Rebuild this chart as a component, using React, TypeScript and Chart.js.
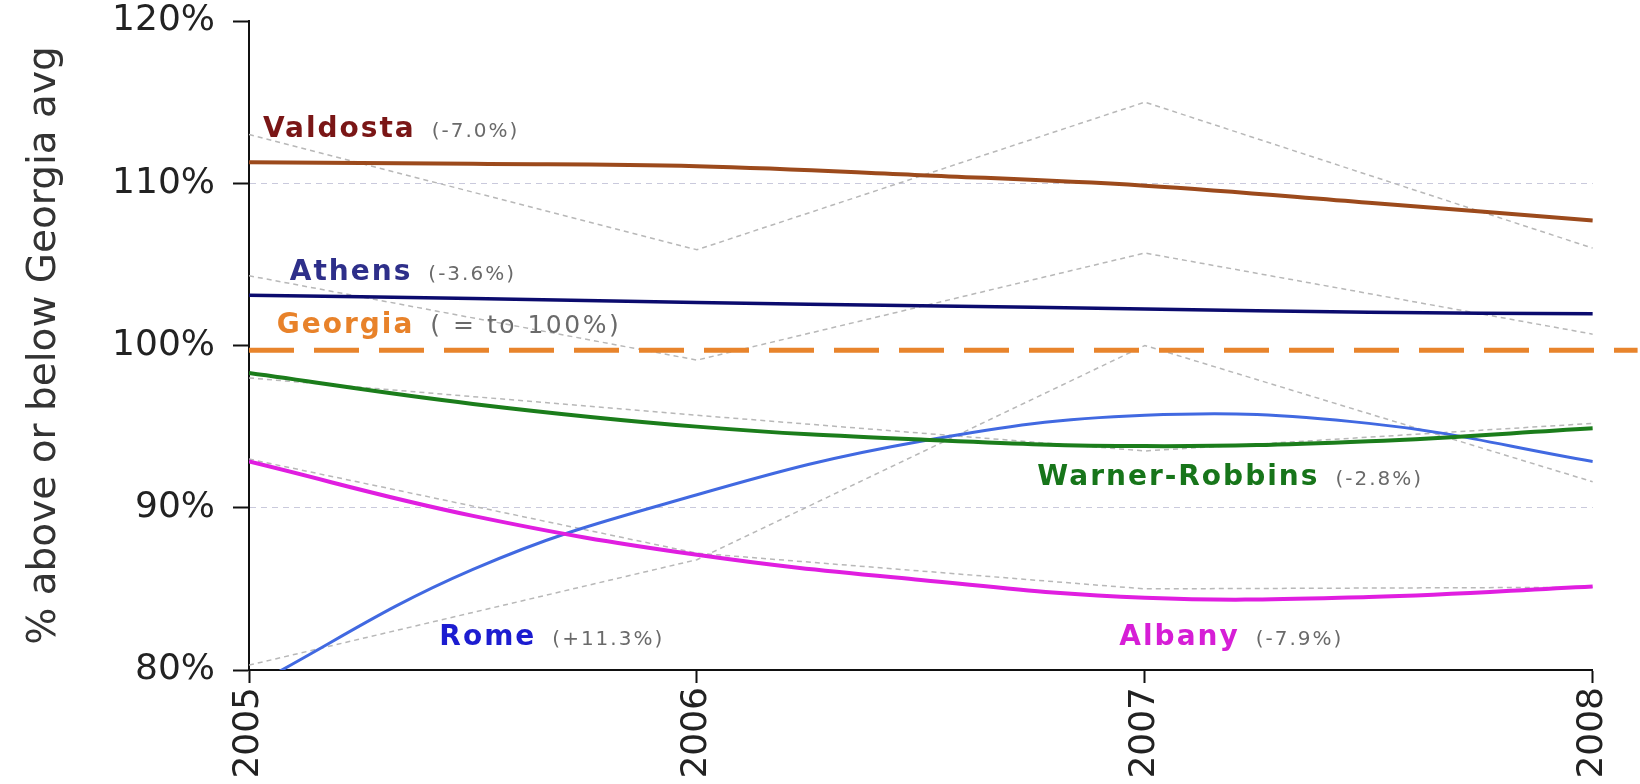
import React, { useEffect, useRef } from 'react';
import { Chart, registerables } from 'chart.js';

Chart.register(...registerables);

// ---- data ----
const years = [2005, 2006, 2007, 2008];
const trendYears = [2005, 2005.5, 2006, 2006.5, 2007, 2007.5, 2008];

// smooth trend lines (% of Georgia average)
const valdostaTrend = [111.3, 111.2, 111.05, 110.5, 109.85, 108.8, 107.7];
const athensTrend = [103.1, 102.9, 102.65, 102.45, 102.25, 102.05, 101.95];
const warnerTrend = [98.3, 96.4, 95.0, 94.2, 93.8, 94.1, 94.9];
const romeTrend = [78.9, 86.2, 90.8, 94.1, 95.7, 95.2, 92.85];
const albanyTrend = [92.85, 89.5, 87.1, 85.55, 84.45, 84.5, 85.15];

// actual yearly values (thin grey dashed)
const valdostaActual = [113.0, 105.9, 115.0, 106.0];
const athensActual = [104.3, 99.1, 105.7, 100.7];
const warnerActual = [98.0, 95.7, 93.5, 95.2];
const romeActual = [80.3, 86.8, 100.0, 91.6];
const albanyActual = [93.0, 87.2, 85.0, 85.1];

// Georgia reference line
const georgiaYears = [2005, 2008.1];
const georgiaLevel = [99.7, 99.7];

const yTicks = [80, 90, 100, 110, 120];
const gridLevels = [90, 110];

const labelNames = ['Valdosta', 'Athens', 'Georgia', 'Rome', 'Warner-Robbins', 'Albany'];
const labelChanges = ['(-7.0%)', '(-3.6%)', '( = to 100%)', '(+11.3%)', '(-2.8%)', '(-7.9%)'];

const THIN = '"DejaVu Sans ExtraLight", "DejaVu Sans", sans-serif';

const pts = (xs: number[], ys: number[]) => xs.map((x, i) => ({ x, y: ys[i] }));

const labelLayout = {
  years: [2005.031, 2005.091, 2005.062, 2005.425, 2006.76, 2006.943],
  values: [112.85, 104.04, 100.77, 81.54, 91.4, 81.54],
  colors: ['#7a1616', '#2e2f8a', '#e8822a', '#1c1cd0', '#17751a', '#d61ed6'],
  changeSizes: [20, 20, 25, 20, 20, 20],
  nameSize: 28,
  gap: 16,
};

const labelPlugin = {
  id: 'cityLabels',
  afterDatasetsDraw(chart: any) {
    const { ctx, scales } = chart;
    const xs = scales.x;
    const ys = scales.y;
    ctx.save();
    ctx.textAlign = 'left';
    ctx.textBaseline = 'alphabetic';
    labelNames.forEach((name, i) => {
      const px = xs.getPixelForValue(labelLayout.years[i]);
      const py = ys.getPixelForValue(labelLayout.values[i]);
      ctx.font = `bold ${labelLayout.nameSize}px "DejaVu Sans", sans-serif`;
      (ctx as any).letterSpacing = '2px';
      ctx.fillStyle = labelLayout.colors[i];
      ctx.fillText(name, px, py);
      const w = ctx.measureText(name).width;
      const sz = labelLayout.changeSizes[i];
      ctx.font = `${sz}px ${THIN}`;
      (ctx as any).letterSpacing = sz > 22 ? '2.5px' : '2px';
      ctx.fillStyle = '#6a6a6a';
      ctx.fillText(labelChanges[i], px + w + labelLayout.gap, py);
    });
    (ctx as any).letterSpacing = '0px';
    ctx.restore();
  },
};

const trend = (data: number[], color: string, width: number) => ({
  data: pts(trendYears, data),
  borderColor: color,
  borderWidth: width,
  pointRadius: 0,
  tension: 0.4,
  fill: false,
});

const actual = (data: number[]) => ({
  data: pts(years, data),
  borderColor: '#b8b8b8',
  borderWidth: 1.5,
  borderDash: [5, 4],
  pointRadius: 0,
  tension: 0,
  fill: false,
});

export default function App() {
  const ref = useRef<HTMLCanvasElement>(null);

  useEffect(() => {
    if (!ref.current) return;
    const chart = new Chart(ref.current, {
      type: 'line',
      data: {
        datasets: [
          trend(valdostaTrend, '#9c4a1c', 4),
          trend(athensTrend, '#0b0b6e', 3.5),
          trend(warnerTrend, '#1b7d1b', 4),
          trend(albanyTrend, '#e01ee0', 4),
          trend(romeTrend, '#4169e1', 3),
          {
            data: pts(georgiaYears, georgiaLevel),
            borderColor: '#e8842c',
            borderWidth: 5,
            borderDash: [45, 20],
            pointRadius: 0,
            tension: 0,
            fill: false,
            clip: false,
          } as any,
          actual(valdostaActual),
          actual(athensActual),
          actual(warnerActual),
          actual(romeActual),
          actual(albanyActual),
        ],
      },
      options: {
        animation: false,
        responsive: false,
        maintainAspectRatio: false,
        layout: { padding: { top: 21, right: 43, left: 0, bottom: 0 } },
        plugins: {
          legend: { display: false },
          tooltip: { enabled: false },
        },
        scales: {
          x: {
            type: 'linear',
            min: 2005,
            max: 2008,
            afterBuildTicks: (s: any) => {
              s.ticks = years.map((v) => ({ value: v }));
            },
            afterFit: (s: any) => {
              s.height = 114;
            },
            ticks: {
              callback: (v: any) => String(v),
              minRotation: 90,
              maxRotation: 90,
              autoSkip: false,
              padding: 4,
              color: '#222',
              font: { family: THIN, size: 36 },
            },
            grid: { drawOnChartArea: false, tickColor: '#111', tickLength: 13, tickWidth: 2 },
            border: { color: '#111', width: 2 },
          },
          y: {
            type: 'linear',
            min: 80,
            max: 120,
            afterBuildTicks: (s: any) => {
              s.ticks = yTicks.map((v) => ({ value: v }));
            },
            afterFit: (s: any) => {
              s.width = 249;
              s.paddingTop = 0;
              s.paddingBottom = 0;
            },
            ticks: {
              callback: (v: any) => v + '%',
              padding: 18,
              color: '#222',
              font: { family: THIN, size: 36 },
            },
            grid: {
              color: (c: any) => (c.tick && gridLevels.includes(c.tick.value) ? '#c9c9dc' : 'rgba(0,0,0,0)'),
              lineWidth: 1,
              tickColor: '#111',
              tickLength: 16,
              tickWidth: 2,
            },
            border: { color: '#111', width: 2, dash: [6, 5] },
            title: {
              display: true,
              text: '% above or below Georgia avg',
              color: '#333',
              font: { family: THIN, size: 39 },
              padding: { top: 21, bottom: 0 },
            },
          },
        },
      },
      plugins: [labelPlugin],
    } as any);
    return () => chart.destroy();
  }, []);

  return (
    <div style={{ position: 'fixed', left: 0, top: 0, width: 1640, height: 784, background: '#fff' }}>
      <canvas ref={ref} width={1640} height={784} style={{ display: 'block', width: 1640, height: 784 }} />
    </div>
  );
}
